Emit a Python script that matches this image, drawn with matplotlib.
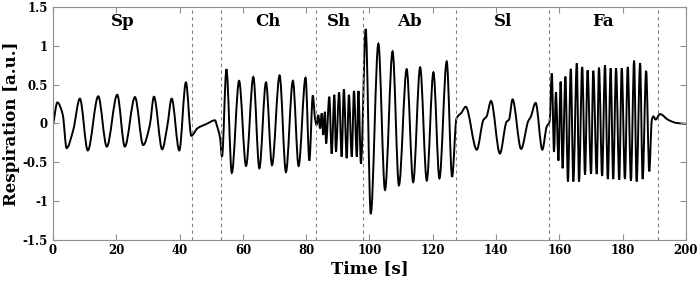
import numpy as np
import matplotlib.pyplot as plt
from matplotlib.path import Path
from matplotlib.patches import PathPatch

plt.rcParams['font.family'] = 'DejaVu Serif'
plt.rcParams['font.weight'] = 'bold'
plt.rcParams['axes.unicode_minus'] = False

# key points (peaks, troughs, shoulders), per breathing pattern
sp_t = [0, 1.4, 3.1, 4.3, 6.4, 8.5, 11.0, 14.3, 17.0, 20.3, 22.7, 25.9, 28.5, 30.6,
        31.9, 34.5, 36.1, 37.5, 39.9, 42.0, 43.7]
sp_y = [-0.03, 0.27, 0.11, -0.32, -0.085, 0.32, -0.35, 0.35, -0.30, 0.37, -0.30, 0.34,
        -0.28, -0.02, 0.345, -0.335, -0.04, 0.32, -0.35, 0.53, -0.16]

gap1_t = [45.6, 48.6, 51.2, 51.8, 52.8, 53.4]
gap1_y = [-0.065, -0.005, 0.04, -0.03, -0.19, -0.43]

ch_t = [54.8, 56.5, 58.8, 61.0, 63.3, 65.2, 67.3, 69.2, 71.6, 73.6, 75.8, 77.6,
        79.8, 81.0, 82.1]
ch_y = [0.70, -0.64, 0.55, -0.55, 0.60, -0.58, 0.53, -0.54, 0.62, -0.63, 0.55, -0.55,
        0.59, -0.48, 0.36]

sh_t = [82.8, 83.3, 83.8, 84.4, 84.9, 85.4, 85.9, 86.3, 87.3, 88.05, 88.9, 89.4,
        90.4, 91.2, 91.9, 92.8, 93.5, 94.4, 95.1, 96.0, 96.5, 97.3]
sh_y = [0.06, -0.02, 0.11, -0.065, 0.13, -0.15, 0.15, -0.26, 0.345, -0.39, 0.37, -0.365,
        0.40, -0.43, 0.44, -0.45, 0.37, -0.43, 0.42, -0.43, 0.42, -0.52]

ab_t = [98.8, 100.4, 102.8, 104.9, 107.3, 109.3, 111.75, 113.8, 116.0, 118.1, 120.2,
        122.1, 124.4, 126.1]
ab_y = [1.22, -1.17, 1.03, -0.86, 0.93, -0.80, 0.70, -0.76, 0.725, -0.74, 0.66,
        -0.71, 0.80, -0.69]

sl_t = [127.5, 129.1, 130.4, 133.9, 136.0, 137.0, 138.4, 141.2, 143.3, 144.1, 145.2,
        147.9, 150.2, 150.9, 152.5, 154.6, 156.0, 156.9]
sl_y = [0.065, 0.14, 0.215, -0.34, 0.045, 0.09, 0.29, -0.39, 0.02, 0.05, 0.31,
        -0.33, 0.035, 0.08, 0.265, -0.34, -0.04, 0.02]

fa_t = [157.6, 158.3, 158.9, 159.7, 160.4, 161.0, 161.9, 162.7, 163.6, 164.4, 165.5,
        166.2, 167.2, 168.1, 168.9, 170.0, 170.7, 171.8, 172.5, 173.5, 174.4, 175.3,
        176.2, 177.0, 177.9, 178.9, 179.7, 180.7, 181.6, 182.6, 183.6, 184.4, 185.5,
        186.3, 187.4, 188.4]
fa_y = [0.645, -0.37, 0.405, -0.48, 0.54, -0.58, 0.605, -0.75, 0.705, -0.75, 0.775,
        -0.75, 0.73, -0.66, 0.685, -0.65, 0.68, -0.655, 0.72, -0.68, 0.75, -0.72,
        0.71, -0.72, 0.71, -0.73, 0.71, -0.72, 0.73, -0.74, 0.81, -0.75, 0.78,
        -0.72, 0.68, -0.62]

end_t = [189.2, 189.7, 190.4, 191.8, 194.4, 197.1, 200.0]
end_y = [0.045, 0.09, 0.05, 0.12, 0.045, 0.005, -0.005]

boundaries = [43.8, 53.1, 83.0, 97.85, 127.3, 156.8, 191.05]
seg_labels = ['Sp', 'Ch', 'Sh', 'Ab', 'Sl', 'Fa']
seg_start = [0, 53.1, 83.0, 97.85, 127.3, 156.8]
seg_end = [43.8, 83.0, 97.85, 127.3, 156.8, 191.05]

t = np.array(sp_t + gap1_t + ch_t + sh_t + ab_t + sl_t + fa_t + end_t)
y = np.array(sp_y + gap1_y + ch_y + sh_y + ab_y + sl_y + fa_y + end_y)

# monotone cubic (Fritsch-Carlson) tangents -> bezier path through the key points
h = np.diff(t)
d = np.diff(y) / h
m = np.zeros_like(y)
m[0], m[-1] = d[0], d[-1]
for k in range(1, len(t) - 1):
    if d[k - 1] * d[k] > 0:
        w1 = 2 * h[k] + h[k - 1]
        w2 = h[k] + 2 * h[k - 1]
        m[k] = (w1 + w2) / (w1 / d[k - 1] + w2 / d[k])

verts = [(t[0], y[0])]
codes = [Path.MOVETO]
for k in range(len(t) - 1):
    verts += [(t[k] + h[k] / 3, y[k] + m[k] * h[k] / 3),
              (t[k + 1] - h[k] / 3, y[k + 1] - m[k + 1] * h[k] / 3),
              (t[k + 1], y[k + 1])]
    codes += [Path.CURVE4] * 3

fig = plt.figure(figsize=(6.99, 2.87), dpi=100)
ax = fig.add_axes([0.0758, 0.1655, 0.9056, 0.8091])
ax.add_patch(PathPatch(Path(verts, codes), fill=False, edgecolor='black', lw=1.4))

for b in boundaries:
    ax.axvline(b, color='#808080', ls=(0, (3, 3)), lw=0.8)

for lab, a, b in zip(seg_labels, seg_start, seg_end):
    ax.text((a + b) / 2, 1.31, lab, ha='center', va='center',
            fontsize=12, fontweight='bold')

ax.set_xlim(0, 200)
ax.set_ylim(-1.5, 1.5)
ax.set_xticks(np.arange(0, 201, 20))
ax.set_yticks(np.arange(-1.5, 1.51, 0.5))
ax.set_yticklabels(['%g' % v for v in np.arange(-1.5, 1.51, 0.5)])
ax.tick_params(direction='in', top=True, right=True, length=4, color='#909090',
               labelsize=8.5)
for s in ax.spines.values():
    s.set_color('#909090')
ax.set_xlabel('Time [s]', fontsize=12, fontweight='bold', labelpad=2)
ax.set_ylabel('Respiration [a.u.]', fontsize=12, fontweight='bold', labelpad=2)

fig.savefig('out.png', dpi=100)
